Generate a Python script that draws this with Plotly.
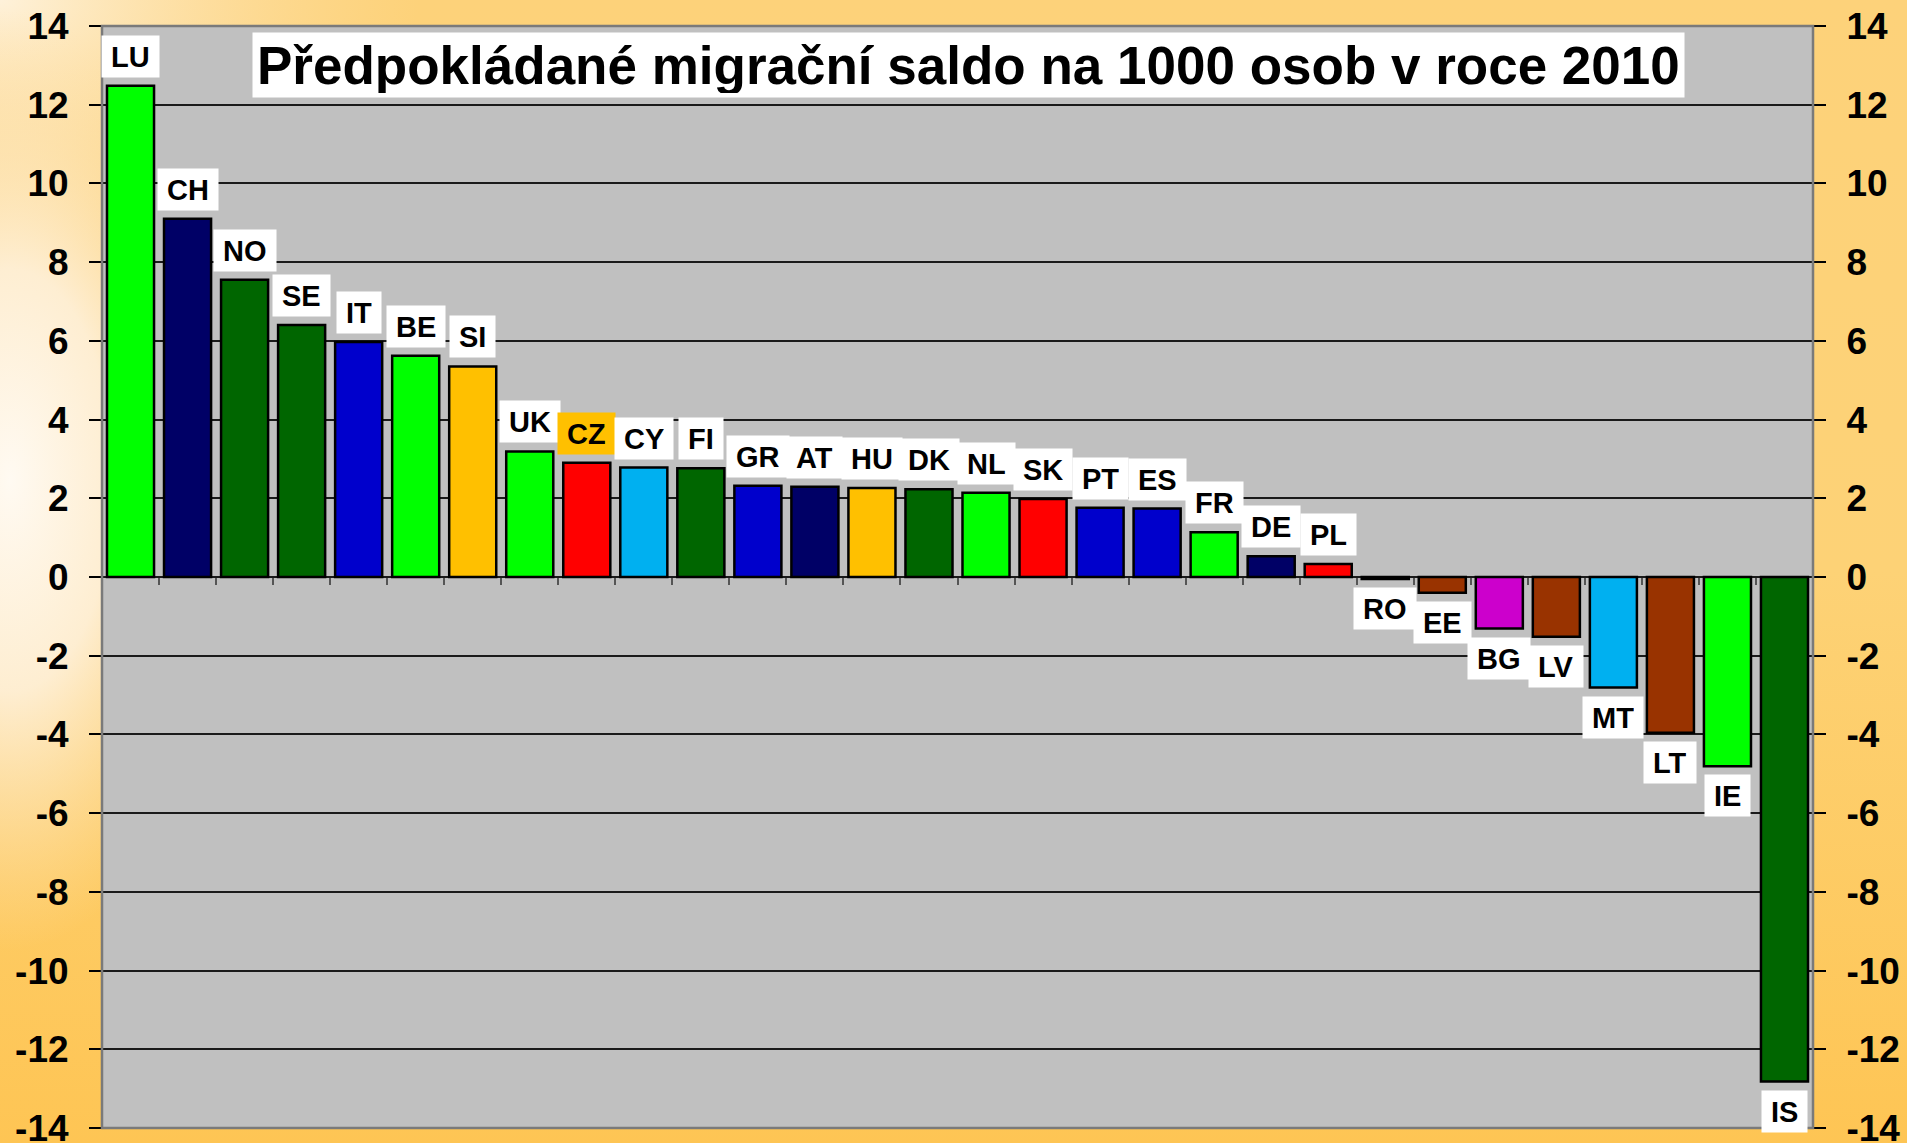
import base64
import plotly.graph_objects as go

countries = ["LU", "CH", "NO", "SE", "IT", "BE", "SI", "UK", "CZ", "CY", "FI", "GR", "AT", "HU", "DK",
             "NL", "SK", "PT", "ES", "FR", "DE", "PL", "RO", "EE", "BG", "LV", "MT", "LT", "IE", "IS"]
values = [12.48, 9.1, 7.55, 6.4, 5.97, 5.62, 5.35, 3.19, 2.9, 2.78, 2.76, 2.32, 2.29, 2.26, 2.23,
          2.14, 1.98, 1.76, 1.74, 1.14, 0.53, 0.33, -0.05, -0.4, -1.31, -1.52, -2.81, -3.96, -4.81, -12.82]
colors = ["#00FF00", "#000066", "#006600", "#006600", "#0000CC", "#00FF00", "#FFC000", "#00FF00",
          "#FF0000", "#00B0F0", "#006600", "#0000CC", "#000066", "#FFC000", "#006600", "#00FF00",
          "#FF0000", "#0000CC", "#0000CC", "#00FF00", "#000066", "#FF0000", "#993300", "#993300",
          "#CC00CC", "#993300", "#00B0F0", "#993300", "#00FF00", "#006600"]
label_bg = ["#FFC000" if c == "CZ" else "#FFFFFF" for c in countries]
title_text = "Předpokládané migrační saldo na 1000 osob v roce 2010"
y_ticks = list(range(-14, 15, 2))

FONT = "Liberation Sans, Arial, sans-serif"

svg = """<svg xmlns='http://www.w3.org/2000/svg' width='1907' height='1143' viewBox='0 0 1907 1143' preserveAspectRatio='none'>
<defs>
<linearGradient id='v' x1='0' y1='0' x2='0' y2='1'>
<stop offset='0' stop-color='#FDD27A'/>
<stop offset='0.5' stop-color='#FDD276'/>
<stop offset='1' stop-color='#FEC554'/>
</linearGradient>
<radialGradient id='r'>
<stop offset='0' stop-color='#FFFAF2' stop-opacity='1'/>
<stop offset='0.45' stop-color='#FEF1DC' stop-opacity='0.9'/>
<stop offset='1' stop-color='#FDE3B5' stop-opacity='0'/>
</radialGradient>
<radialGradient id='t'>
<stop offset='0' stop-color='#FEF3DF' stop-opacity='0.95'/>
<stop offset='1' stop-color='#FDE0A8' stop-opacity='0'/>
</radialGradient>
</defs>
<rect width='1907' height='1143' fill='url(#v)'/>
<ellipse cx='0' cy='0' rx='420' ry='260' fill='url(#t)'/>
<ellipse cx='10' cy='480' rx='230' ry='470' fill='url(#r)'/>
</svg>"""
src = "data:image/svg+xml;base64," + base64.b64encode(svg.encode()).decode()

L, R, T, B = 102, 94, 26, 15
W, H = 1907, 1143
pw, ph = W - L - R, H - T - B

fig = go.Figure()
fig.add_trace(go.Bar(
    x=countries, y=values,
    marker=dict(color=colors, line=dict(color="#000000", width=2.5)),
    showlegend=False, hoverinfo="x+y",
))
fig.add_trace(go.Scatter(x=[countries[0]], y=[0], yaxis="y2", mode="markers",
                         marker=dict(opacity=0), showlegend=False, hoverinfo="skip"))

annotations = []
for c, v, bg in zip(countries, values, label_bg):
    pos = v >= 0
    annotations.append(dict(
        x=c, y=v, xref="x", yref="y", text=c, showarrow=False,
        yanchor="bottom" if pos else "top", yshift=8 if pos else -8,
        font=dict(family=FONT, size=29, color="#000000", weight="bold"),
        bgcolor=bg, borderpad=9, height=23,
    ))
annotations.append(dict(
    x=0.5064, y=0.9646, xref="paper", yref="paper", text=title_text, showarrow=False,
    xanchor="center", yanchor="middle",
    font=dict(family=FONT, size=53, color="#000000", weight="bold"),
    bgcolor="#FFFFFF", borderpad=4, height=56,
))

axis_common = dict(
    range=[-14, 14], tickvals=y_ticks, ticktext=[str(t) for t in y_ticks],
    ticks="outside", ticklen=12, tickwidth=1.5, tickcolor="#000000",
    tickfont=dict(family=FONT, size=37, color="#000000", weight="bold"),
    ticklabelstandoff=13, ticklabeloverflow="allow",
    showline=False, fixedrange=True, automargin=False, domain=[0, 1],
)

fig.update_layout(
    width=W, height=H, autosize=False,
    margin=dict(l=L, r=R, t=T, b=B, pad=0, autoexpand=False),
    paper_bgcolor="#FDD078", plot_bgcolor="rgba(0,0,0,0)",
    bargap=0.175,
    xaxis=dict(
        type="category", anchor="free", position=0.5, showticklabels=False,
        ticks="outside", ticklen=7, tickwidth=1.5, tickcolor="#555555",
        tickson="boundaries", showgrid=False, showline=False, zeroline=False,
        range=[-0.5, len(countries) - 0.5], fixedrange=True, automargin=False,
        domain=[0, 1],
    ),
    yaxis=dict(**axis_common, side="left", showgrid=True, gridcolor="#1a1a1a", gridwidth=1.5,
               zeroline=True, zerolinecolor="#1a1a1a", zerolinewidth=1.5),
    yaxis2=dict(**axis_common, side="right", overlaying="y", showgrid=False, zeroline=False),
    annotations=annotations,
    images=[dict(source=src, xref="paper", yref="paper",
                 x=-L / pw, y=1 + T / ph, sizex=W / pw, sizey=H / ph,
                 xanchor="left", yanchor="top", sizing="stretch", layer="below")],
    shapes=[
        dict(type="rect", xref="paper", yref="paper", x0=0, y0=0, x1=1, y1=1,
             fillcolor="#C0C0C0", line=dict(width=0), layer="below"),
        dict(type="rect", xref="paper", yref="paper", x0=0, y0=0, x1=1, y1=1,
             line=dict(color="#7a7a7a", width=2.5), layer="above"),
    ],
)

fig.write_html(
    "out.html",
    config={"responsive": False, "displayModeBar": False},
    post_script="document.body.style.margin='0';document.body.style.padding='0';document.body.style.overflow='hidden';",
)
